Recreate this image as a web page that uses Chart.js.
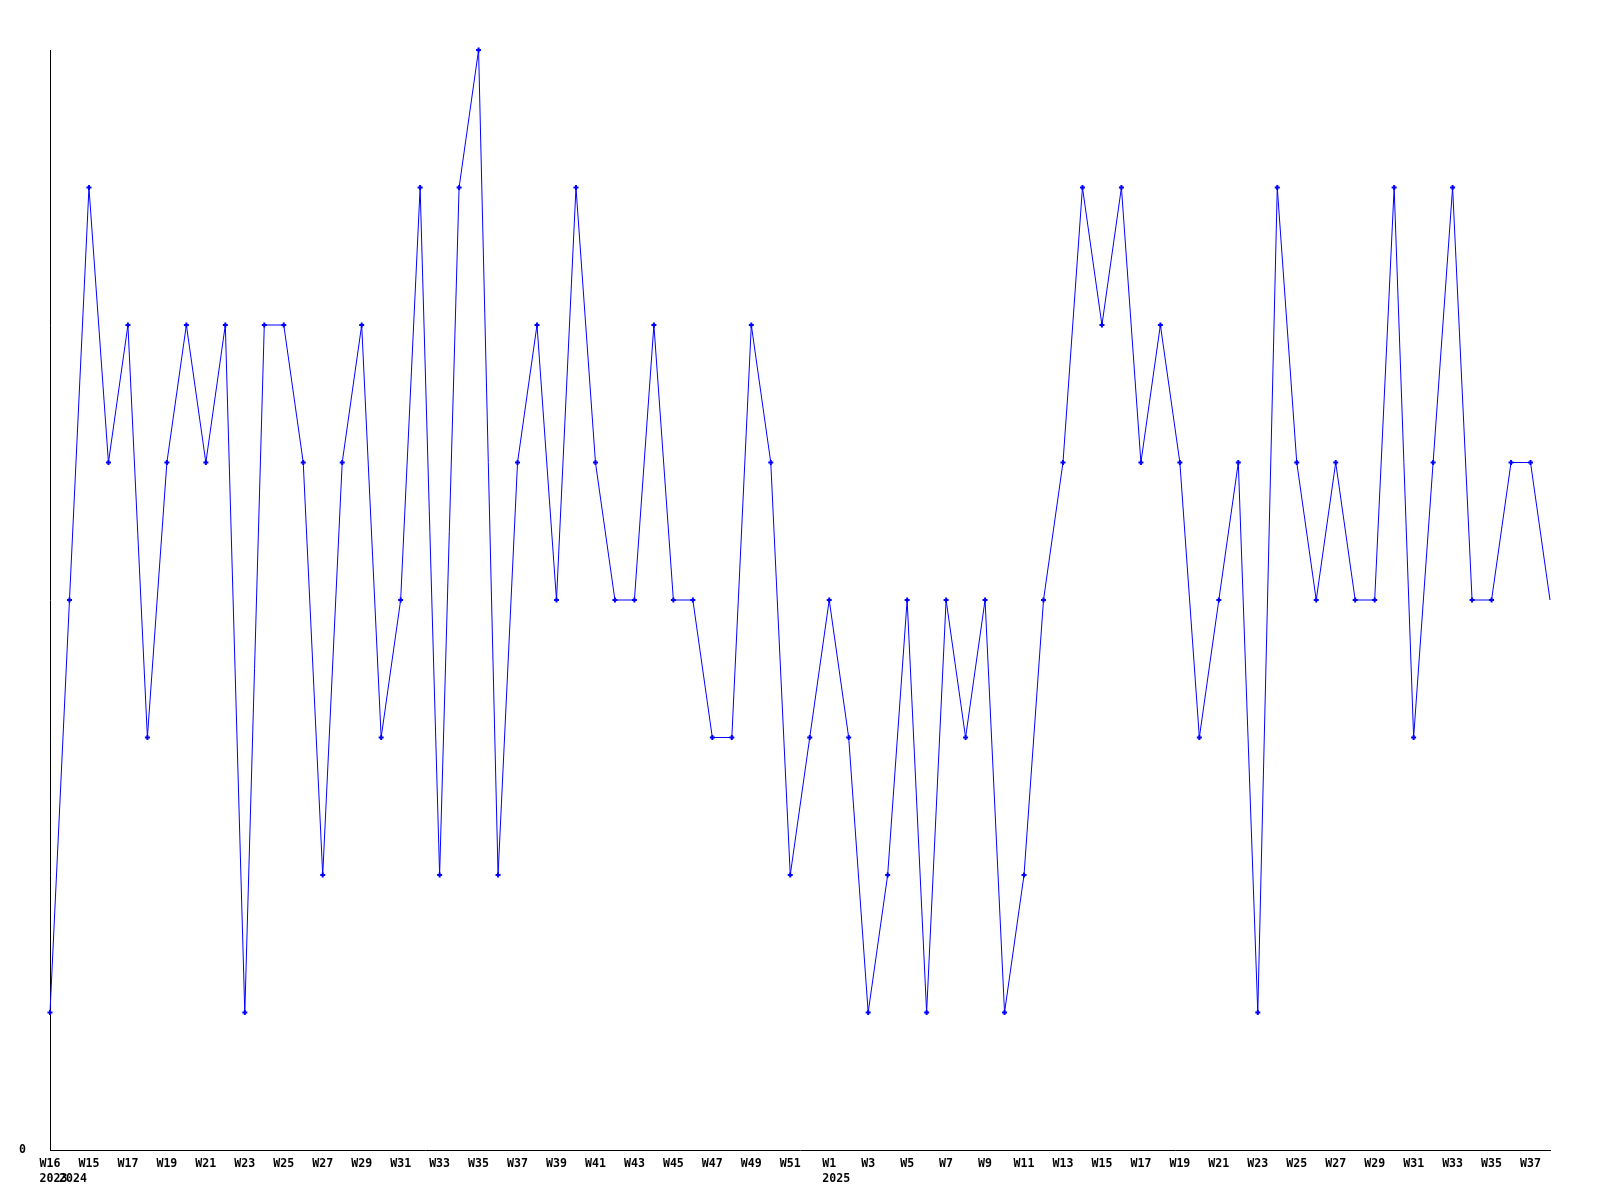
<!DOCTYPE html>
<html>
<head>
<meta charset="utf-8">
<script src="https://cdn.jsdelivr.net/npm/chart.js@4/dist/chart.umd.min.js"></script>
<style>
  html, body { margin: 0; padding: 0; background: #ffffff; }
  #wrap { width: 1600px; height: 1200px; }
</style>
</head>
<body>
<div id="wrap"><canvas id="c" width="1600" height="1200"></canvas></div>
<script>
const weeks = [
  'W16',
  'W14','W15','W16','W17','W18','W19','W20','W21','W22','W23','W24','W25','W26',
  'W27','W28','W29','W30','W31','W32','W33','W34','W35','W36','W37','W38','W39',
  'W40','W41','W42','W43','W44','W45','W46','W47','W48','W49','W50','W51','W52',
  'W1','W2','W3','W4','W5','W6','W7','W8','W9','W10','W11','W12','W13','W14',
  'W15','W16','W17','W18','W19','W20','W21','W22','W23','W24','W25','W26','W27',
  'W28','W29','W30','W31','W32','W33','W34','W35','W36','W37','W38'
];
const yearMarks = { 0: '2023', 1: '2024', 40: '2025' };
const counts = [
  1,
  4,7,5,6,3,5,6,5,6,1,6,6,5,
  2,5,6,3,4,7,2,7,8,2,5,6,4,
  7,5,4,4,6,4,4,3,3,6,5,2,3,
  4,3,1,2,4,1,4,3,4,1,2,4,5,7,
  6,7,5,6,5,3,4,5,1,7,5,4,5,
  4,4,7,3,5,7,4,4,5,5,4
];
const yTickValues = [0];

const monoFont = { family: "'DejaVu Sans Mono', 'Liberation Mono', monospace", size: 11.6, weight: 'bold', lineHeight: 1.3 };

// year label starts at the left edge of the week label (monospace padding)
function yearLine(week, year) {
  const weekLen = week.length || 3;
  const pad = Math.max(0, year.length - weekLen);
  return ' '.repeat(pad) + year;
}

new Chart(document.getElementById('c'), {
  type: 'line',
  data: {
    labels: weeks,
    datasets: [{
      data: counts,
      borderColor: '#0000ff',
      backgroundColor: '#0000ff',
      borderWidth: 1,
      tension: 0,
      fill: false,
      pointStyle: 'cross',
      pointRadius: (ctx) => ctx.dataIndex === counts.length - 1 ? 0 : 2.5,
      pointBorderWidth: 2,
      pointBorderColor: '#0000ff',
      clip: false
    }]
  },
  options: {
    responsive: false,
    animation: false,
    devicePixelRatio: 1,
    layout: { padding: { top: 50, right: 50, left: 0, bottom: 0 } },
    plugins: { legend: { display: false }, tooltip: { enabled: false }, title: { display: false } },
    scales: {
      x: {
        type: 'category',
        offset: false,
        grid: { display: false, drawTicks: false },
        border: { display: true, color: '#000000', width: 1 },
        ticks: {
          autoSkip: false,
          maxRotation: 0,
          minRotation: 0,
          padding: 6,
          color: '#000000',
          font: monoFont,
          callback: function (value, index) {
            const wk = index % 2 === 0 ? weeks[index] : '';
            const yr = yearMarks[index];
            if (yr !== undefined) return [wk, yearLine(wk, yr)];
            return wk;
          }
        },
        afterFit: (scale) => { scale.height = 50; }
      },
      y: {
        min: 0,
        max: 8,
        grid: { display: false, drawTicks: false },
        border: { display: true, color: '#000000', width: 1 },
        afterBuildTicks: (scale) => { scale.ticks = yTickValues.map(v => ({ value: v })); },
        ticks: {
          padding: 24,
          color: '#000000',
          font: monoFont,
          callback: (v) => String(v)
        },
        afterFit: (scale) => { scale.width = 50; }
      }
    }
  }
});
</script>
</body>
</html>
